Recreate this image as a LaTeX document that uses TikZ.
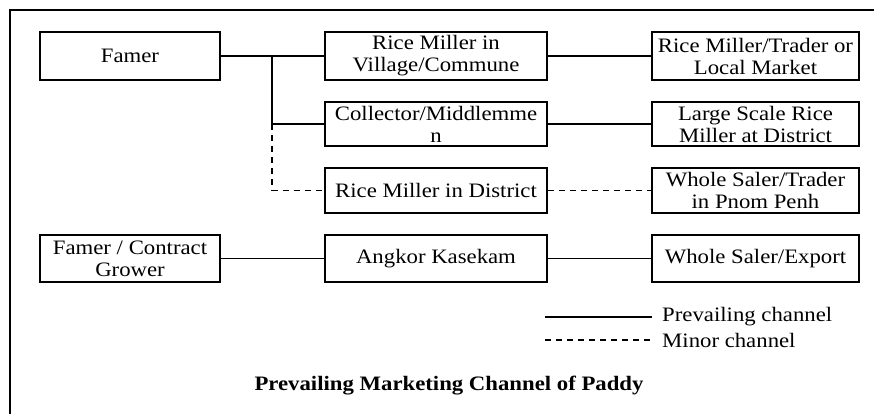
\documentclass[tikz,border=0pt]{standalone}
\usepackage{fontspec}
\setmainfont{Liberation Serif}[FakeStretch=1.11]
\usepackage{tikz}
\usetikzlibrary{positioning,calc}
\tikzset{
  chbox/.style={draw=black,line width=2pt,align=center,inner sep=2pt,
    font=\fontsize{20.5}{22}\selectfont},      % channel box
  wbox/.style={chbox,minimum width=180pt},
  mbox/.style={chbox,minimum width=222pt},
  rbox/.style={chbox,minimum width=207pt},
  prev/.style={black,line width=1.2pt},          % prevailing channel
  minor/.style={black,line width=1.2pt,dash pattern=on 6pt off 5pt},
  frame/.style={black,line width=2.2pt},
  lgtext/.style={anchor=west,inner xsep=10pt,inner ysep=0pt,font=\fontsize{20.5}{22}\selectfont},
}

\begin{document}
\begin{tikzpicture}[x=1pt,y=-1pt]
  \useasboundingbox (0,0) rectangle (874,414);
  % outer frame (cut at right and bottom)
  \coordinate (frB) at (10,414);
  \coordinate (frC) at (10,10);
  \coordinate (frT) at (874,10);
  \draw[frame] (frB) -- (frC) -- (frT);

  % boxes
  \node[wbox,minimum height=48pt] (famer) at (130,56) {Famer};
  \node[mbox,minimum height=48pt] (village) at (436,56) {Rice Miller in\\Village/Commune};
  \node[rbox,minimum height=48pt] (local) at (755.5,56) {Rice Miller/Trader or\\Local Market};
  \node[mbox,minimum height=44pt] (collect) at (436,124) {Collector/Middlemme\\n};
  \node[rbox,minimum height=44pt] (large) at (755.5,124) {Large Scale Rice\\Miller at District};
  \node[mbox,minimum height=45pt] (district) at (436,190.5) {Rice Miller in District};
  \node[rbox,minimum height=45pt] (pnompenh) at (755.5,190.5) {Whole Saler/Trader\\in Pnom Penh};
  \node[wbox,minimum height=47pt] (grower) at (130,258.5) {Famer / Contract\\Grower};
  \node[mbox,minimum height=47pt] (angkor) at (436,258.5) {Angkor Kasekam};
  \node[rbox,minimum height=47pt] (export) at (755.5,258.5) {Whole Saler/Export};

  % channels
  \coordinate (j1) at (272,56);
  \coordinate (j2) at (272,124);
  \coordinate (j3) at (272,190.5);
  \draw[prev] (famer) -- (village);
  \draw[prev] (j1) -- (j2) -- (collect);
  \draw[minor] (j2) -- (j3) -- (district);
  \draw[prev] (village) -- (local);
  \draw[prev] (collect) -- (large);
  \draw[minor] (district) -- (pnompenh);
  \draw[prev] (grower) -- (angkor);
  \draw[prev] (angkor) -- (export);

  % legend
  \node[lgtext] (lgprev) at (652,317) {Prevailing channel};
  \node[lgtext] (lgminor) at (652,340) {Minor channel};
  \coordinate (lg1) at (545,317);
  \coordinate (lg2) at (545,340);
  \draw[prev] (lg1) -- (lgprev.west);
  \draw[minor] (lg2) -- (lgminor.west);

  \node[font=\fontsize{20.5}{22}\selectfont\bfseries] (title) at (449,386) {Prevailing Marketing Channel of Paddy};
\end{tikzpicture}
\end{document}
